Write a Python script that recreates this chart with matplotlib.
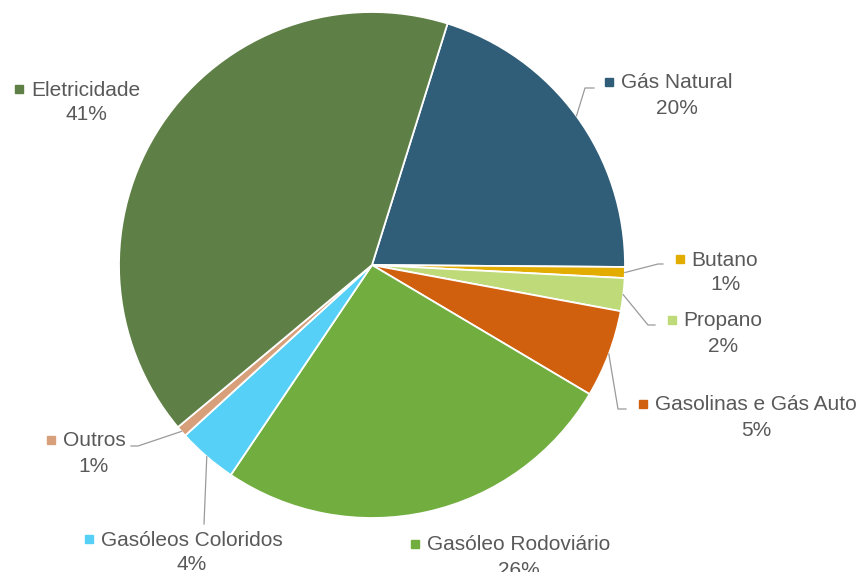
import matplotlib
matplotlib.use("Agg")
import matplotlib.pyplot as plt
import numpy as np

plt.rcParams['font.family'] = ['Liberation Sans', 'DejaVu Sans']

categories = ['Gás Natural', 'Butano', 'Propano', 'Gasolinas e Gás Auto',
              'Gasóleo Rodoviário', 'Gasóleos Coloridos', 'Outros', 'Eletricidade']
shares = [20.3, 0.7, 2.1, 5.6, 25.9, 3.8, 0.7, 40.9]
pct_labels = ['20%', '1%', '2%', '5%', '26%', '4%', '1%', '41%']
colors = ['#305E78', '#E2AC00', '#BFDA78', '#D1600E',
          '#72AD3F', '#56D0F6', '#D7A07B', '#5E7F46']

# label block centre (x, y of name line) in pixel coords, image y down
label_pos = [(677, 83), (725, 260), (723, 321), (756, 405),
             (519, 545), (192, 540), (94, 441), (86, 90)]
# elbow points of the leader lines (None = no leader)
leaders = [[(585, 88), (594, 88)],
           [(658, 264), (663, 264)],
           [(648, 325), (655, 325)],
           [(618, 409), (626, 409)],
           None,
           [(204, 524)],
           [(138, 446), (131, 446)],
           None]

txt = '#595959'
fs = 15

fig = plt.figure(figsize=(8.64, 5.72), dpi=100)
ax = fig.add_axes([0, 0, 1, 1])

cx, cy, r = 372, 265, 253
wedges, _ = ax.pie(shares, colors=colors, startangle=-72.63, counterclock=True,
                   center=(cx, cy), radius=r, frame=True,
                   wedgeprops=dict(edgecolor='white', linewidth=1.3))
ax.set_xlim(0, 864)
ax.set_ylim(572, 0)
ax.axis('off')

names = []
for w, name, pct, (lx, ly), ld in zip(wedges, categories, pct_labels,
                                      label_pos, leaders):
    if ld is not None:
        mid = np.deg2rad((w.theta1 + w.theta2) / 2)
        pts = [(cx + r * np.cos(mid), cy + r * np.sin(mid))] + ld
        xs, ys = zip(*pts)
        ax.plot(xs, ys, color='#9A9A9A', lw=0.9, zorder=1)
    names.append(ax.text(lx, ly, name, ha='center', va='center',
                         fontsize=fs, color=txt))
    ax.text(lx, ly + 25, pct, ha='center', va='center', fontsize=fs, color=txt)

# markers left of the names
renderer = fig.canvas.get_renderer()
for t, col in zip(names, colors):
    bb = t.get_window_extent(renderer)
    x0, _ = ax.transData.inverted().transform((bb.x0, bb.y0))
    _, ym = t.get_position()
    ax.plot([x0 - 12], [ym - 1], marker='s', markersize=5.2, color=col, lw=0)

fig.savefig('out.png', dpi=100)
